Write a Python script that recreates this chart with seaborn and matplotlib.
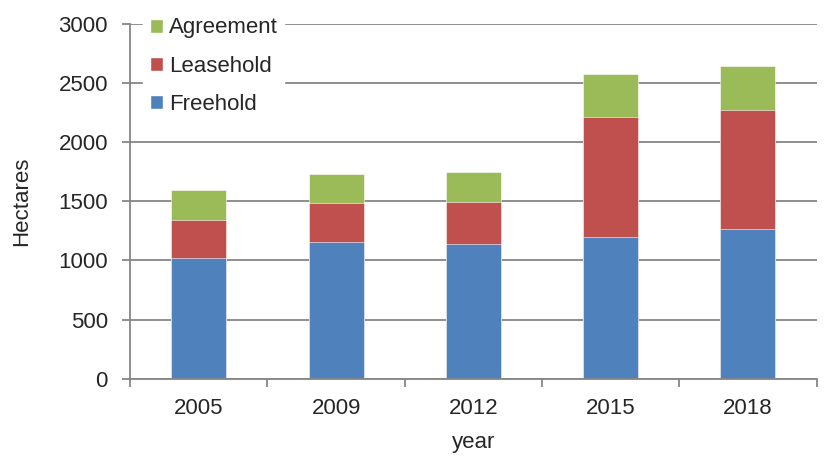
import numpy as np
import pandas as pd
import seaborn as sns
import matplotlib.pyplot as plt
from matplotlib.patches import Patch

# values (hectares)
years = ["2005", "2009", "2012", "2015", "2018"]
freehold = [1017, 1152, 1138, 1197, 1267]
leasehold = [326, 333, 358, 1015, 1007]
agreement = [249, 245, 254, 367, 371]

df = pd.DataFrame({"year": years, "Freehold": freehold,
                   "Leasehold": leasehold, "Agreement": agreement})
# cumulative heights, drawn tallest first so the lower pieces sit on top
df["lvl1"] = df["Freehold"]
df["lvl2"] = df["lvl1"] + df["Leasehold"]
df["lvl3"] = df["lvl2"] + df["Agreement"]

sns.set_style("white")
plt.rcParams["font.family"] = ["Liberation Sans", "DejaVu Sans"]

colors = {"Freehold": "#4F81BD", "Leasehold": "#C0504D", "Agreement": "#9BBB59"}
grid_c = "#868686"
fs = 16

fig = plt.figure(figsize=(8.24, 4.58), dpi=100)
ax = fig.add_axes([0.158, 0.173, 0.833, 0.775])

for col, name in [("lvl3", "Agreement"), ("lvl2", "Leasehold"), ("lvl1", "Freehold")]:
    sns.barplot(data=df, x="year", y=col, order=years, color=colors[name],
                width=0.4, saturation=1, edgecolor="white", linewidth=0.4, ax=ax)

ax.set_ylim(0, 3000)
ax.set_xlim(-0.5, len(years) - 0.5)
ax.set_yticks(np.arange(0, 3001, 500))
ax.yaxis.grid(True, color=grid_c, linewidth=1.3)
ax.set_axisbelow(True)

for s in ["top", "right"]:
    ax.spines[s].set_visible(False)
for s in ["left", "bottom"]:
    ax.spines[s].set_color(grid_c)
    ax.spines[s].set_linewidth(1.3)

ax.tick_params(axis="y", which="major", length=6, color=grid_c, width=1.3,
               labelsize=fs, pad=10, left=True)
ax.tick_params(axis="x", which="major", length=0, labelsize=fs, pad=14)
ax.set_xticks(np.arange(-0.5, len(years)), minor=True)
ax.tick_params(axis="x", which="minor", length=6, color=grid_c, width=1.3, bottom=True)

ax.set_xlabel("year", fontsize=fs, labelpad=9)
ax.set_ylabel("Hectares", fontsize=fs, labelpad=19)

handles = [Patch(facecolor=colors[n], label=n) for n in ["Agreement", "Leasehold", "Freehold"]]
leg = ax.legend(handles=handles, loc="upper left", bbox_to_anchor=(0.003, 1.068),
                fontsize=fs, frameon=True, framealpha=1, edgecolor="white",
                fancybox=False, handlelength=0.6, handleheight=0.6,
                handletextpad=0.25, labelspacing=0.78, borderpad=0.3)

fig.savefig("out.png", dpi=100)
